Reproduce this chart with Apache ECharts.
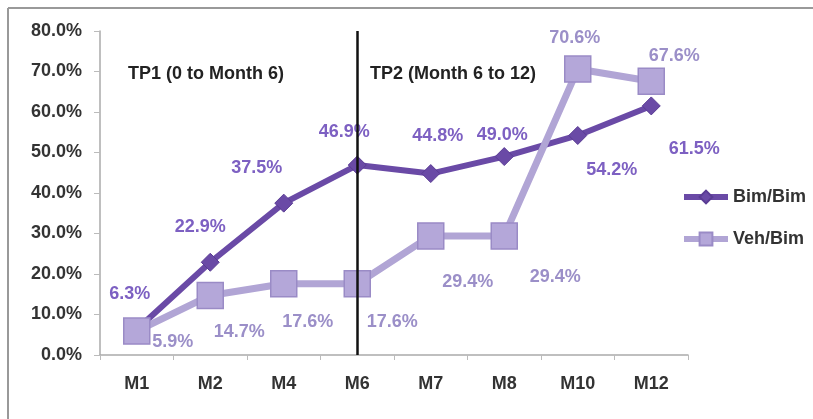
<!DOCTYPE html>
<html>
<head>
<meta charset="utf-8">
<script src="https://cdn.jsdelivr.net/npm/echarts@6/dist/echarts.min.js"></script>
<style>
    html, body { margin: 0; padding: 0; background: #fff; }
    #chart { width: 813px; height: 419px; }
</style>
</head>
<body>
<div id="chart"></div>
<script>
// 数据
var months = ['M1', 'M2', 'M4', 'M6', 'M7', 'M8', 'M10', 'M12'];
var bimBim = [6.3, 22.9, 37.5, 46.9, 44.8, 49.0, 54.2, 61.5];
var vehBim = [5.9, 14.7, 17.6, 17.6, 29.4, 29.4, 70.6, 67.6];
var yTicks = [0, 10, 20, 30, 40, 50, 60, 70, 80];

// label offsets (center of text relative to point)
var bimOffsets = [[-7, -35], [-10, -35], [-27, -35], [-13, -33], [7, -38], [-2, -22], [34, 35], [43, 43]];
var vehOffsets = [[36, 11], [29, 37], [24, 38], [35, 38], [37, 46], [51, 41], [-3, -31], [23, -25]];

var FONT = 'Liberation Sans';

function makeData(values, offsets) {
    return values.map(function (v, i) {
        return { value: v, label: { offset: offsets[i] } };
    });
}

(function () {
    let myechart = echarts.init(document.getElementById('chart'));
    var option = {
        animation: false,
        textStyle: { fontFamily: FONT },
        grid: {
            left: 100,
            right: 125,
            top: 31,
            bottom: 64
        },
        legend: {
            orient: 'vertical',
            left: 676,
            top: 183,
            itemWidth: 44,
            itemHeight: 16,
            itemGap: 24,
            textStyle: { fontSize: 18, fontWeight: 'bold', color: '#333', fontFamily: FONT },
            data: [
                { name: 'Bim/Bim', lineStyle: { width: 6 } },
                { name: 'Veh/Bim', lineStyle: { width: 6 } }
            ]
        },
        graphic: [
            {
                type: 'line',
                shape: { x1: 8, y1: 8, x2: 813, y2: 8 },
                style: { stroke: '#999', lineWidth: 2 },
                silent: true
            },
            {
                type: 'line',
                shape: { x1: 8, y1: 8, x2: 8, y2: 419 },
                style: { stroke: '#999', lineWidth: 2 },
                silent: true
            },
            {
                type: 'text',
                left: 128, top: 65,
                style: { text: 'TP1 (0 to Month 6)', fontSize: 18, fontWeight: 'bold', fill: '#222', fontFamily: FONT }
            },
            {
                type: 'text',
                left: 370, top: 65,
                style: { text: 'TP2 (Month 6 to 12)', fontSize: 18, fontWeight: 'bold', fill: '#222', fontFamily: FONT }
            }
        ],
        xAxis: {
            type: 'category',
            data: months,
            boundaryGap: true,
            axisLine: { lineStyle: { color: '#aaa', width: 1.5 } },
            axisTick: { show: true, length: 5, lineStyle: { color: '#bbb' } },
            axisLabel: { margin: 20, fontSize: 18, fontWeight: 'bold', color: '#333', fontFamily: FONT }
        },
        yAxis: {
            type: 'value',
            min: yTicks[0],
            max: yTicks[yTicks.length - 1],
            interval: 10,
            axisLine: { show: true, lineStyle: { color: '#aaa', width: 1.5 } },
            axisTick: { show: true, length: 6, lineStyle: { color: '#bbb' } },
            splitLine: { show: false },
            axisLabel: {
                margin: 18,
                fontSize: 18,
                fontWeight: 'bold',
                color: '#333',
                fontFamily: FONT,
                formatter: function (v) { return v.toFixed(1) + '%'; }
            }
        },
        series: [
            {
                name: 'Bim/Bim',
                type: 'line',
                data: makeData(bimBim, bimOffsets),
                symbol: 'diamond',
                symbolSize: 18,
                lineStyle: { color: '#6a4aa6', width: 6 },
                itemStyle: { color: '#6a4aa6', borderColor: '#5a3c94', borderWidth: 1 },
                label: {
                    show: true,
                    position: 'inside',
                    fontSize: 18,
                    fontWeight: 'bold',
                    color: '#7d60c2',
                    fontFamily: FONT,
                    formatter: function (p) { return p.value.toFixed(1) + '%'; }
                },
                markLine: {
                    silent: true,
                    symbol: 'none',
                    label: { show: false },
                    lineStyle: { color: '#111', width: 2.5, type: 'solid' },
                    data: [{ xAxis: 'M6' }]
                },
                z: 2
            },
            {
                name: 'Veh/Bim',
                type: 'line',
                data: makeData(vehBim, vehOffsets),
                symbol: 'rect',
                symbolSize: 26,
                lineStyle: { color: '#b1a5d5', width: 7 },
                itemStyle: { color: '#b4a7d9', borderColor: '#9a8bc6', borderWidth: 1.5 },
                label: {
                    show: true,
                    position: 'inside',
                    fontSize: 18,
                    fontWeight: 'bold',
                    color: '#9b8fc8',
                    fontFamily: FONT,
                    formatter: function (p) { return p.value.toFixed(1) + '%'; }
                },
                z: 3
            }
        ]
    };
    myechart.setOption(option);
    window.addEventListener('resize', function () {
        myechart.resize();
    });
})();
</script>
</body>
</html>
